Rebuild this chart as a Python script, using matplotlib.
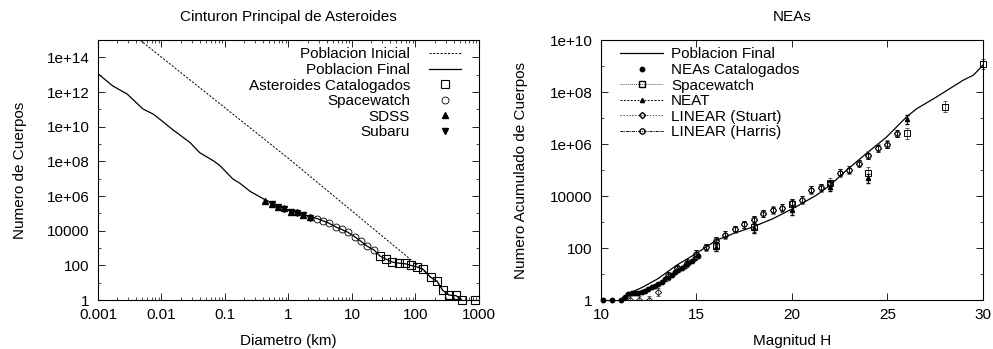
import matplotlib
matplotlib.use('Agg')
import matplotlib.pyplot as plt
from matplotlib.ticker import FuncFormatter, LogLocator, NullFormatter
from matplotlib.lines import Line2D

plt.rcParams['font.family'] = ['Liberation Sans', 'DejaVu Sans']
plt.rcParams['font.size'] = 11

## DATA - left panel (main belt)
d_ini = [0.0046, 1.0, 117, 174, 219, 269, 339, 437, 537]
n_ini = [1e15, 1.5e8, 80, 21, 12.3, 3.7, 1.95, 1.8, 1]

d_fin = [0.001, 0.0017, 0.0029, 0.0051, 0.0074, 0.0105, 0.0146, 0.028, 0.040,
         0.065, 0.083, 0.133, 0.172, 0.248, 0.40, 0.55, 0.85, 1.1, 1.7, 2.2,
         2.8, 4.3, 5.6, 8.6, 11.1, 13.8, 17.2, 22.2, 27.5, 34.6, 43, 55, 69,
         85, 105, 132, 174, 219, 269, 339, 437, 537]
n_fin = [1.15e13, 2.3e12, 7.6e11, 1.07e11, 5.4e10, 2.0e10, 7.4e9, 1.26e9, 3.2e8,
         1.12e8, 5.8e7, 9.8e6, 5.5e6, 1.9e6, 7.1e5, 4.0e5, 2.0e5, 1.35e5, 8.9e4, 6.3e4,
         5.2e4, 2.8e4, 1.66e4, 8.3e3, 4.5e3, 2.5e3, 1.32e3, 790, 355, 229, 158, 135, 126,
         100, 83, 60, 21, 12.3, 3.7, 1.95, 1.8, 1]

d_cat = [27.5, 34.6, 43, 55, 69, 85, 105, 132, 174, 219, 269, 339, 437, 537, 871]
n_cat = [340, 229, 151, 135, 135, 102, 79, 60, 21, 12.3, 3.7, 1.95, 1.95, 1, 1]

d_sw = [2.8, 3.5, 4.3, 5.6, 7.0, 8.6, 11.1, 13.8, 17.2, 22.2]
n_sw = [5.1e4, 3.5e4, 2.7e4, 1.58e4, 1.2e4, 8.1e3, 4.2e3, 2.45e3, 1.26e3, 740]

d_sdss = [0.43, 0.55, 0.68, 0.85, 1.1, 1.36, 1.7, 2.2]
n_sdss = [5.6e5, 3.7e5, 2.5e5, 1.95e5, 1.29e5, 1.15e5, 8.7e4, 5.9e4]

d_sub = [0.55, 0.68, 0.85, 1.1, 1.36, 1.7, 2.2]
n_sub = [3.5e5, 2.4e5, 1.85e5, 1.25e5, 1.1e5, 8.3e4, 5.7e4]

## DATA - right panel (NEAs)
h_fin = [11.15, 11.6, 12.2, 13.0, 13.96, 15.0, 16.06, 16.93, 17.97, 19.02, 20.07,
         21.29, 21.99, 22.86, 23.9, 24.96, 26.0, 26.53, 27.58, 28.97, 29.5, 30.0]
n_hfin = [1.3, 2.0, 3.2, 6.8, 22, 63, 204, 363, 660, 1380, 3390,
          1.1e4, 2.6e4, 1e5, 4.4e5, 1.9e6, 1.12e7, 2.3e7, 6.6e7, 2.9e8, 4.5e8, 1.1e9]

h_cat = [10.09, 10.58, 11.03, 11.26, 11.43, 11.61, 11.78, 11.95, 12.13, 12.30, 12.48,
         12.65, 12.83, 13.0, 13.17, 13.35, 13.53, 13.70, 13.87, 14.05, 14.22, 14.4,
         14.57, 14.75, 14.92, 15.1]
n_hcat = [1, 1, 1, 1.35, 1.8, 1.9, 1.9, 1.9, 2.1, 2.3, 2.6,
          3.1, 3.5, 4.2, 4.9, 6.3, 7.4, 9.1, 11.7, 14.1, 17.4, 21,
          26, 31, 40, 52]

h_spw = [16, 18, 20, 22, 24, 26, 28, 30]
n_spw = [126, 660, 4900, 3.1e4, 7.9e4, 2.6e6, 2.75e7, 1.2e9]

h_neat = [16, 18, 20, 22, 24, 26]
n_neat = [112, 575, 2900, 2.3e4, 4.8e4, 8.9e6]

h_stu = [11.5, 12, 12.5, 13, 13.5, 14, 14.5, 15, 15.5, 16, 16.5, 17, 17.5, 18,
         18.5, 19, 19.5, 20, 20.5, 21, 21.5, 22, 22.5, 23, 23.5, 24, 24.5, 25, 25.5]
n_stu = [1, 1, 1, 2.1, 8.3, 16.6, 25.7, 60, 107, 190, 316, 525, 813, 1200,
         2140, 2880, 3550, 5250, 7080, 1.7e4, 2.1e4, 3.1e4, 7.9e4, 1e5, 1.8e5, 3.8e5,
         7.4e5, 1e6, 2.6e6]

h_har = [13.5, 14, 14.5, 15, 15.5, 16, 16.5, 17, 17.5, 18, 18.5, 19, 19.5, 20,
         20.5, 21, 21.5, 22, 22.5, 23, 23.5, 24, 24.5, 25, 25.5]
n_har = [9, 17, 28, 62, 110, 200, 330, 540, 830, 1300, 2200, 2950, 3650, 5500,
         7300, 1.75e4, 2.2e4, 3.2e4, 8.1e4, 1.05e5, 1.9e5, 3.5e5, 7.0e5, 9.5e5, 2.5e6]

# relative size of the error bars (factor up/down)
err_spw = 1.6
err_neat = 1.5
err_stu = 1.4
err_har = 1.35


def fmt_g(v, pos):
    return '%g' % v


def errs(n, f):
    return [[v - v / f for v in n], [v * f - v for v in n]]


def style_axes(ax):
    for s in ax.spines.values():
        s.set_linewidth(0.8)
    ax.tick_params(which='both', direction='in', top=True, right=True,
                   labelsize=11, pad=6)
    ax.tick_params(which='major', length=5, width=0.6)
    ax.tick_params(which='minor', length=2.5, width=0.5)


fig = plt.figure(figsize=(9.93, 3.49), dpi=100)
ax1 = fig.add_axes([0.0987, 0.140, 0.3836, 0.745])
ax2 = fig.add_axes([0.6052, 0.140, 0.3847, 0.745])

## LEFT PANEL
ax1.plot(d_ini, n_ini, color='black', lw=0.7, ls=(0, (2.2, 1.6)),
         label='Poblacion Inicial')
ax1.plot(d_fin, n_fin, color='black', lw=0.9, label='Poblacion Final')
ax1.plot(d_cat, n_cat, ls='none', marker='s', ms=5.5, mfc='none', mec='black',
         mew=0.8, label='Asteroides Catalogados', clip_on=False)
ax1.plot(d_sw, n_sw, ls='none', marker='o', ms=5, mfc='none', mec='black',
         mew=0.6, label='Spacewatch')
ax1.plot(d_sdss, n_sdss, ls='none', marker='^', ms=4, color='black',
         label='SDSS')
ax1.plot(d_sub, n_sub, ls='none', marker='v', ms=4, color='black',
         label='Subaru')

ax1.set_xscale('log')
ax1.set_yscale('log')
ax1.set_xlim(0.001, 1000)
ax1.set_ylim(1, 1e15)
ax1.set_yticks([10.0 ** k for k in range(0, 15, 2)])
ax1.set_yticks([10.0 ** k for k in range(1, 16, 2)], minor=True)
ax1.xaxis.set_major_locator(LogLocator(base=10, numticks=10))
ax1.xaxis.set_minor_locator(LogLocator(base=10, subs=range(2, 10), numticks=20))
ax1.xaxis.set_major_formatter(FuncFormatter(fmt_g))
ax1.xaxis.set_minor_formatter(NullFormatter())
ax1.yaxis.set_major_formatter(FuncFormatter(fmt_g))
ax1.yaxis.set_minor_formatter(NullFormatter())
style_axes(ax1)
ax1.set_title('Cinturon Principal de Asteroides', fontsize=11, pad=14)
ax1.set_xlabel('Diametro (km)', fontsize=11, labelpad=8)
ax1.set_ylabel('Numero de Cuerpos', fontsize=11, labelpad=14)

# handles on the right, rows right aligned
ax1.legend(loc='upper right', bbox_to_anchor=(0.98, 1.013), frameon=False,
           markerfirst=False, handlelength=2.1, handletextpad=1.2,
           labelspacing=0.1, borderpad=0.2, fontsize=11, numpoints=1)

## RIGHT PANEL
ax2.plot(h_fin, n_hfin, color='black', lw=0.9)
ax2.plot(h_cat, n_hcat, ls='none', marker='o', ms=3.2, color='black', clip_on=False)
ax2.errorbar(h_spw, n_spw, yerr=errs(n_spw, err_spw), ls='none', marker='s', ms=4,
             mfc='none', mec='black', mew=0.7, ecolor='0.35', elinewidth=0.6,
             capsize=1.5, clip_on=False)
ax2.errorbar(h_neat, n_neat, yerr=errs(n_neat, err_neat), ls='none', marker='^', ms=3,
             color='black', ecolor='black', elinewidth=0.6, capsize=1.5)
ax2.errorbar(h_stu, n_stu, yerr=errs(n_stu, err_stu), ls='none', marker='D', ms=3.2,
             mfc='none', mec='black', mew=0.6, ecolor='0.3', elinewidth=0.6,
             capsize=1.5)
ax2.errorbar(h_har, n_har, yerr=errs(n_har, err_har), ls='none', marker='o', ms=3.8,
             mfc='none', mec='black', mew=0.6, ecolor='black', elinewidth=0.6,
             capsize=1.5)

ax2.set_yscale('log')
ax2.set_xlim(10, 30)
ax2.set_ylim(1, 1e10)
ax2.set_xticks([10, 15, 20, 25, 30])
ax2.set_yticks([10.0 ** k for k in range(0, 11, 2)])
ax2.set_yticks([10.0 ** k for k in range(1, 10, 2)], minor=True)
ax2.yaxis.set_major_formatter(FuncFormatter(fmt_g))
ax2.yaxis.set_minor_formatter(NullFormatter())
style_axes(ax2)
ax2.set_title('NEAs', fontsize=11, pad=14)
ax2.set_xlabel('Magnitud H', fontsize=11, labelpad=8)
ax2.set_ylabel('Numero Acumulado de Cuerpos', fontsize=11, labelpad=16)

handles2 = [
    Line2D([], [], color='black', lw=0.9),
    Line2D([], [], ls='none', marker='o', ms=3.2, color='black'),
    Line2D([], [], color='0.35', lw=0.7, ls=(0, (1, 1)), marker='s', ms=4,
           mfc='none', mec='black'),
    Line2D([], [], color='black', lw=0.7, ls=(0, (2, 1.5)), marker='^', ms=3),
    Line2D([], [], color='0.3', lw=0.7, ls=(0, (1.5, 1.5)), marker='D', ms=3.2,
           mfc='none', mec='black'),
    Line2D([], [], color='black', lw=0.7, ls=(0, (3, 1, 1, 1)), marker='o', ms=3.8,
           mfc='none', mec='black'),
]
labels2 = ['Poblacion Final', 'NEAs Catalogados', 'Spacewatch', 'NEAT',
           'LINEAR (Stuart)', 'LINEAR (Harris)']
ax2.legend(handles2, labels2, loc='upper left', bbox_to_anchor=(0.023, 1.013),
           frameon=False, handlelength=2.8, handletextpad=0.5, labelspacing=0.1,
           borderpad=0.2, fontsize=11, numpoints=1)

fig.savefig('out.png', dpi=100)
